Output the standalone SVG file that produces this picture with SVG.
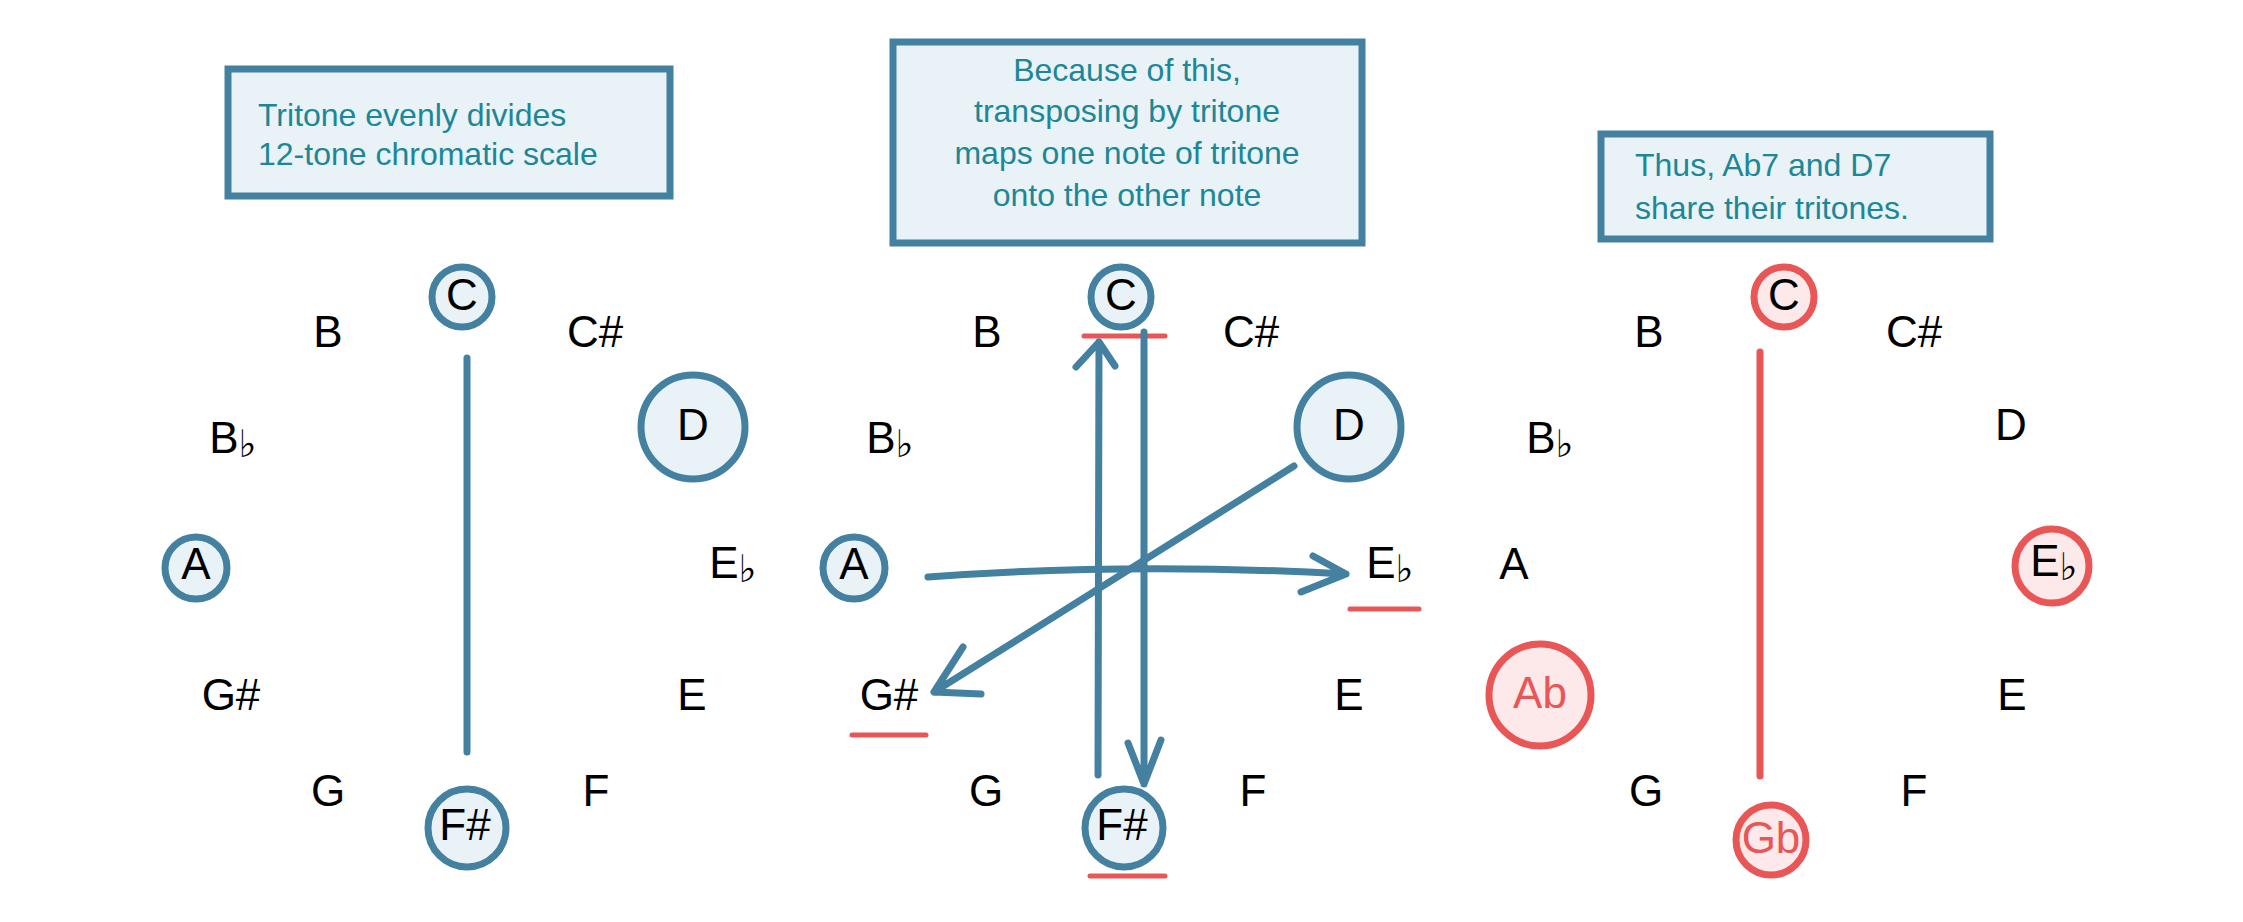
<svg xmlns="http://www.w3.org/2000/svg" width="2243" height="922" viewBox="0 0 2243 922">
<style>
.box{fill:#e9f2f6;stroke:#44809f;stroke-width:7}
.bt{font-family:"Liberation Sans","DejaVu Sans",sans-serif;font-size:32px;fill:#1b8797}
.n{font-family:"Liberation Sans","DejaVu Sans",sans-serif;font-size:44px;fill:#000;text-anchor:middle;dominant-baseline:central;transform:translateY(-3px)}
.fl{font-family:"DejaVu Sans",sans-serif;font-size:38px}
.bc{fill:#e9f2f6;stroke:#44809f;stroke-width:7}
.rc{fill:#fde9e9;stroke:#e85656;stroke-width:7}
.bl{stroke:#44809f;stroke-width:7;fill:none;stroke-linecap:round;stroke-linejoin:round}
.rl{stroke:#e85656;stroke-width:7;fill:none;stroke-linecap:round}
.ru{stroke:#e85656;stroke-width:5;fill:none;stroke-linecap:round}
</style>
<rect width="2243" height="922" fill="#fff"/>
<!-- Panel 1 -->
<g id="box1"><rect class="box" x="228" y="69" width="442" height="127"/>
<text class="bt" x="258" y="126">Tritone evenly divides</text><text class="bt" x="258" y="165">12-tone chromatic scale</text></g>
<g id="connectors1"><line class="bl" x1="467" y1="358" x2="467" y2="752"/></g>
<g id="p1C"><circle class="bc" cx="462" cy="297" r="30"/><text class="n" x="462" y="297">C</text></g>
<g id="p1B"><text class="n" x="328" y="334">B</text></g>
<g id="p1Cs"><text class="n" x="595" y="334">C#</text></g>
<g id="p1D"><circle class="bc" cx="693" cy="427" r="52"/><text class="n" x="693" y="427">D</text></g>
<g id="p1Bb"><text class="n" x="233" y="440">B<tspan class="fl" dy="7">♭</tspan></text></g>
<g id="p1A"><circle class="bc" cx="196" cy="568" r="31"/><text class="n" x="196" y="566">A</text></g>
<g id="p1Eb"><text class="n" x="733" y="565">E<tspan class="fl" dy="7">♭</tspan></text></g>
<g id="p1Gs"><text class="n" x="231" y="697">G#</text></g>
<g id="p1E"><text class="n" x="692" y="697">E</text></g>
<g id="p1G"><text class="n" x="328" y="793">G</text></g>
<g id="p1F"><text class="n" x="596" y="793">F</text></g>
<g id="p1Fs"><circle class="bc" cx="467" cy="828" r="39"/><text class="n" x="465" y="827">F#</text></g>
<!-- Panel 2 -->
<g id="box2"><rect class="box" x="893" y="42" width="469" height="201"/>
<text class="bt" text-anchor="middle" x="1127" y="81">Because of this,</text>
<text class="bt" text-anchor="middle" x="1127" y="122">transposing by tritone</text>
<text class="bt" text-anchor="middle" x="1127" y="164">maps one note of tritone</text>
<text class="bt" text-anchor="middle" x="1127" y="206">onto the other note</text></g>
<g id="p2C"><circle class="bc" cx="1121" cy="297" r="30"/><text class="n" x="1121" y="297">C</text></g>
<g id="p2B"><text class="n" x="987" y="334">B</text></g>
<g id="p2Cs"><text class="n" x="1251" y="334">C#</text></g>
<g id="p2D"><circle class="bc" cx="1349" cy="427" r="52"/><text class="n" x="1349" y="427">D</text></g>
<g id="p2Bb"><text class="n" x="890" y="440">B<tspan class="fl" dy="7">♭</tspan></text></g>
<g id="p2A"><circle class="bc" cx="854" cy="568" r="31"/><text class="n" x="854" y="566">A</text></g>
<g id="p2Eb"><text class="n" x="1390" y="565">E<tspan class="fl" dy="7">♭</tspan></text></g>
<g id="p2Gs"><text class="n" x="889" y="697">G#</text></g>
<g id="p2E"><text class="n" x="1349" y="697">E</text></g>
<g id="p2G"><text class="n" x="986" y="793">G</text></g>
<g id="p2F"><text class="n" x="1253" y="793">F</text></g>
<g id="p2Fs"><circle class="bc" cx="1124" cy="828" r="39"/><text class="n" x="1122" y="827">F#</text></g>
<g id="underlines">
<line class="ru" x1="1084" y1="336" x2="1165" y2="336"/>
<line class="ru" x1="1350" y1="609" x2="1419" y2="609"/>
<line class="ru" x1="852" y1="735" x2="926" y2="735"/>
<line class="ru" x1="1090" y1="876" x2="1165" y2="876"/>
</g>
<g id="connectors2">
<path class="bl" d="M1098 775 L1099 342 M1076 367 L1099 342 L1115 366"/>
<path class="bl" d="M1144 332 L1144 784 M1128 743 L1144 784 L1161 740"/>
<path class="bl" d="M1294 466 L934 692 M963 647 L934 692 L981 694"/>
<path class="bl" d="M928 577 Q1130 562 1346 574 M1313 556 L1346 574 L1301 592"/>
</g>
<!-- Panel 3 -->
<g id="box3"><rect class="box" x="1601" y="134" width="389" height="105"/>
<text class="bt" x="1635" y="176">Thus, Ab7 and D7</text><text class="bt" x="1635" y="219">share their tritones.</text></g>
<g id="connectors3"><line class="rl" x1="1760" y1="352" x2="1760" y2="776"/></g>
<g id="p3C"><circle class="rc" cx="1784" cy="297" r="30"/><text class="n" x="1784" y="297">C</text></g>
<g id="p3B"><text class="n" x="1649" y="334">B</text></g>
<g id="p3Cs"><text class="n" x="1914" y="334">C#</text></g>
<g id="p3D"><text class="n" x="2011" y="427">D</text></g>
<g id="p3Bb"><text class="n" x="1550" y="440">B<tspan class="fl" dy="7">♭</tspan></text></g>
<g id="p3A"><text class="n" x="1514" y="566">A</text></g>
<g id="p3Eb"><circle class="rc" cx="2052" cy="566" r="37"/><text class="n" x="2054" y="563">E<tspan class="fl" dy="7">♭</tspan></text></g>
<g id="p3Ab"><circle class="rc" cx="1540" cy="695" r="51"/><text class="n" x="1540" y="695" style="fill:#e85656">Ab</text></g>
<g id="p3E"><text class="n" x="2012" y="697">E</text></g>
<g id="p3G"><text class="n" x="1646" y="793">G</text></g>
<g id="p3F"><text class="n" x="1914" y="793">F</text></g>
<g id="p3Gb"><circle class="rc" cx="1771" cy="840" r="35"/><text class="n" x="1771" y="840" style="fill:#e85656">Gb</text></g>
</svg>
